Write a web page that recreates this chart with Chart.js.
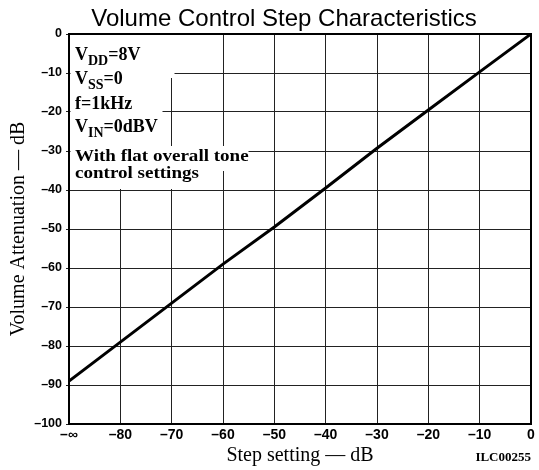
<!DOCTYPE html>
<html>
<head>
<meta charset="utf-8">
<title>Volume Control Step Characteristics</title>
<script src="https://cdn.jsdelivr.net/npm/chart.js@4/dist/chart.umd.min.js"></script>
<style>
  html, body { margin: 0; padding: 0; background: #fff; }
  #wrap { width: 539px; height: 470px; position: relative; }
</style>
</head>
<body>
<div id="wrap"><canvas id="chart"></canvas></div>
<script>
// values
const stepSetting = [-90, -80, -70, -60, -50, -40, -30, -20, -10, 0];
const attenuation = [-89, -79, -69, -59, -49.5, -39.5, -29.3, -19.5, -9.7, 0];
const xTicks = [-90, -80, -70, -60, -50, -40, -30, -20, -10, 0];
const yTicks = [0, -10, -20, -30, -40, -50, -60, -70, -80, -90, -100];

const chartTitle = 'Volume Control Step Characteristics';
const xTitle = 'Step setting — dB';
const yTitle = 'Volume Attenuation — dB';
const figCode = 'ILC00255';

// condition notes: [text, subscript?]
const notes = [
  [['V', false], ['DD', true], ['=8V', false]],
  [['V', false], ['SS', true], ['=0', false]],
  [['f=1kHz', false]],
  [['V', false], ['IN', true], ['=0dBV', false]],
  [['With flat overall tone', false]],
  [['control settings', false]]
];

const serif = '"Liberation Serif", "Times New Roman", serif';
const sans = '"Liberation Sans", Arial, sans-serif';

function dashLabel(v) {
  if (v === -90) return '\u2013\u221e';
  if (v === 0) return '0';
  return '\u2013' + Math.abs(v);
}

const extras = {
  id: 'extras',
  beforeDatasetsDraw(chart) {
    const ctx = chart.ctx;
    const a = chart.chartArea;
    ctx.save();
    // white area behind the notes
    const rows = [[1, 44, 104], [44, 64, 72], [64, 88, 92], [88, 112, 96], [112, 137, 178], [137, 155, 128]];
    ctx.fillStyle = '#fff';
    rows.forEach(r => ctx.fillRect(a.left + 1.5, a.top + r[0], r[2], r[1] - r[0]));

    const baselines = [26, 50, 75, 98, 127, 144];
    ctx.fillStyle = '#000';
    ctx.textBaseline = 'alphabetic';
    ctx.textAlign = 'left';
    notes.forEach((line, i) => {
      let x = a.left + 6;
      const big = i >= 4 ? 17 : 18;
      line.forEach(p => {
        ctx.font = 'bold ' + (p[1] ? 14 : big) + 'px ' + serif;
        const y = a.top + baselines[i] + (p[1] ? 5 : 0);
        if (i >= 4) {
          ctx.save();
          ctx.translate(x, y);
          ctx.scale(1.12, 1);
          ctx.fillText(p[0], 0, 0);
          ctx.restore();
          x += ctx.measureText(p[0]).width * 1.12;
        } else {
          ctx.fillText(p[0], x, y);
          x += ctx.measureText(p[0]).width;
        }
      });
    });

    // frame
    ctx.strokeStyle = '#000';
    ctx.lineWidth = 2;
    ctx.strokeRect(a.left, a.top, a.right - a.left, a.bottom - a.top);
    ctx.restore();
  },
  afterDraw(chart) {
    const ctx = chart.ctx;
    ctx.save();
    ctx.fillStyle = '#000';
    ctx.textAlign = 'center';
    ctx.textBaseline = 'alphabetic';
    ctx.font = '24px ' + sans;
    ctx.fillText(chartTitle, 284, 26);
    ctx.textAlign = 'right';
    ctx.font = 'bold 13px ' + serif;
    ctx.fillText(figCode, 531, 461);
    ctx.restore();
  }
};

new Chart(document.getElementById('chart'), {
  type: 'scatter',
  data: {
    datasets: [{
      data: stepSetting.map((x, i) => ({ x: x, y: attenuation[i] })),
      showLine: true,
      borderColor: '#000',
      borderWidth: 3,
      pointRadius: 0,
      tension: 0
    }]
  },
  options: {
    responsive: true,
    maintainAspectRatio: false,
    animation: false,
    layout: { padding: { top: 34, right: 8, left: 0, bottom: 0 } },
    plugins: {
      legend: { display: false },
      tooltip: { enabled: false },
      title: { display: false }
    },
    scales: {
      x: {
        type: 'linear',
        min: -90,
        max: 0,
        afterFit: s => { s.height = 46; },
        afterBuildTicks: s => { s.ticks = xTicks.map(v => ({ value: v })); },
        ticks: {
          callback: v => dashLabel(v),
          color: '#000',
          font: { family: sans, size: 14, weight: 'bold' },
          padding: 3,
          maxRotation: 0,
          autoSkip: false
        },
        grid: { color: '#222', lineWidth: 1, drawTicks: false },
        border: { color: '#000', width: 2 },
        title: {
          display: true,
          text: xTitle,
          color: '#000',
          font: { family: serif, size: 20 },
          padding: { top: 0, bottom: 2 }
        }
      },
      y: {
        min: -100,
        max: 0,
        afterFit: s => { s.width = 69; },
        afterBuildTicks: s => { s.ticks = yTicks.map(v => ({ value: v })); },
        ticks: {
          callback: v => v === 0 ? '0' : '\u2013' + Math.abs(v),
          color: '#000',
          font: { family: sans, size: 12.5, weight: 'bold' },
          padding: 4,
          autoSkip: false
        },
        grid: { color: '#222', lineWidth: 1, tickLength: 3 },
        border: { color: '#000', width: 2 },
        title: {
          display: true,
          text: yTitle,
          color: '#000',
          font: { family: serif, size: 20 },
          padding: { top: 7, bottom: 0 }
        }
      }
    }
  },
  plugins: [extras]
});
</script>
</body>
</html>
